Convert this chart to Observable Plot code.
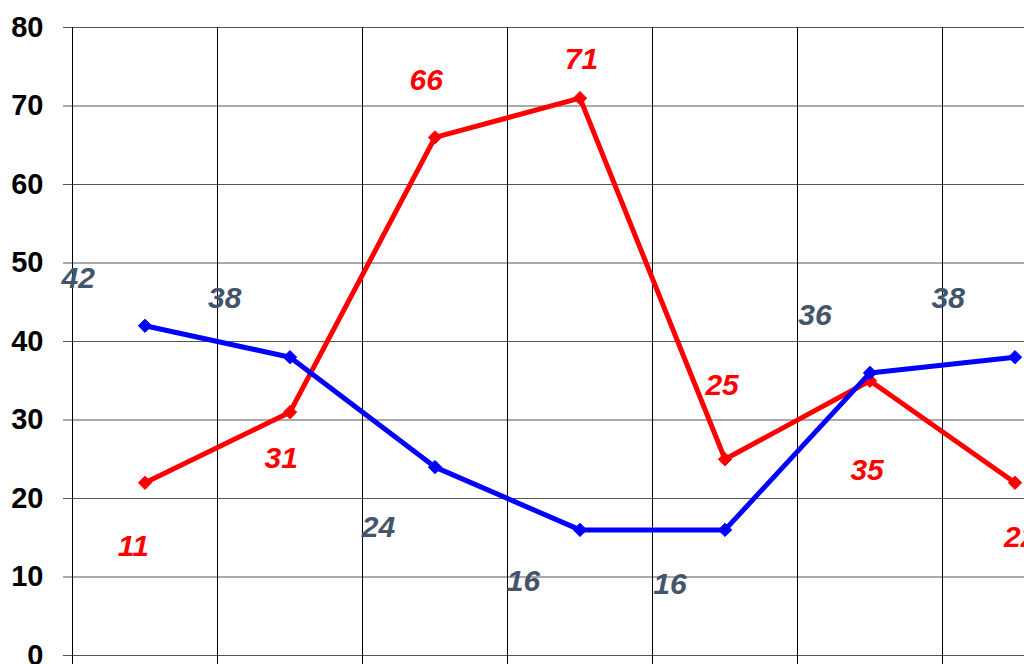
<!DOCTYPE html>
<html>
<head>
<meta charset="utf-8">
<script src="https://cdn.jsdelivr.net/npm/d3@7"></script>
<script src="https://cdn.jsdelivr.net/npm/@observablehq/plot@0.6"></script>
<style>
  html, body { margin: 0; padding: 0; background: #fff; overflow: hidden; }
  #chart svg { display: block; overflow: hidden; }
</style>
</head>
<body>
<div id="chart"></div>
<script>
// Category slots (7 bands, the last one is cut off by the window edge)
const slots = [0, 1, 2, 3, 4, 5, 6];
const bandEdges = [0, 1, 2, 3, 4, 5, 6, 7];

// Series values
const redValues  = [22, 31, 66, 71, 25, 35, 22];
const blueValues = [42, 38, 24, 16, 16, 36, 38];

// Data label texts as printed on the chart
const redLabels  = ["11", "31", "66", "71", "25", "35", "22"];
const blueLabels = ["42", "38", "24", "16", "16", "36", "38"];

// Where each data label sits, in slot / value units
const redLabelSlot  = [0.42, 1.44, 2.44, 3.51, 4.48, 5.48, 6.54];
const redLabelAt    = [13.9, 25.1, 73.2, 76.0, 34.4, 23.6, 15.0];
const blueLabelSlot = [0.04, 1.05, 2.11, 3.11, 4.12, 5.12, 6.04];
const blueLabelAt   = [48.0, 45.5, 16.3, 9.5, 9.0, 43.3, 45.5];

// Y tick values
const yTicks = [0, 10, 20, 30, 40, 50, 60, 70, 80];

const red = slots.map((s, i) => ({x: s + 0.5, y: redValues[i], label: redLabels[i], lx: redLabelSlot[i], ly: redLabelAt[i]}));
const blue = slots.map((s, i) => ({x: s + 0.5, y: blueValues[i], label: blueLabels[i], lx: blueLabelSlot[i], ly: blueLabelAt[i]}));

const font = "'Liberation Sans', Arial, sans-serif";

const chart = Plot.plot({
  width: 1024,
  height: 664,
  marginLeft: 72,
  marginRight: -63,
  marginTop: 27,
  marginBottom: 9,
  style: {fontFamily: font, background: "#fff"},
  x: {type: "linear", domain: [0, 7], axis: null},
  y: {domain: [0, 80], axis: null},
  marks: [
    Plot.gridY(yTicks, {stroke: "#555", strokeOpacity: 1, strokeWidth: 1}),
    Plot.gridX(bandEdges, {stroke: "#000", strokeOpacity: 1, strokeWidth: 1}),
    Plot.axisY(yTicks, {
      anchor: "left", tickSize: 9, tickPadding: 20, stroke: "#555",
      fontSize: 29, fontWeight: "bold", fill: "#000", label: null
    }),
    Plot.axisX(bandEdges, {
      anchor: "bottom", tickSize: 9, tickFormat: () => "", stroke: "#000", label: null
    }),
    Plot.line(red, {x: "x", y: "y", stroke: "#ff0000", strokeWidth: 5, strokeLinejoin: "miter"}),
    Plot.dot(red, {x: "x", y: "y", symbol: "diamond2", r: 6, fill: "#ff0000", stroke: "#ff0000", strokeWidth: 1}),
    Plot.line(blue, {x: "x", y: "y", stroke: "#0000ff", strokeWidth: 5, strokeLinejoin: "miter"}),
    Plot.dot(blue, {x: "x", y: "y", symbol: "diamond2", r: 6, fill: "#0000ff", stroke: "#0000ff", strokeWidth: 1}),
    Plot.text(red, {x: "lx", y: "ly", text: "label", fill: "#ff0000",
      fontSize: 30, fontWeight: "bold", fontStyle: "italic"}),
    Plot.text(blue, {x: "lx", y: "ly", text: "label", fill: "#44546A",
      fontSize: 30, fontWeight: "bold", fontStyle: "italic"})
  ]
});

document.getElementById("chart").appendChild(chart);
</script>
</body>
</html>
